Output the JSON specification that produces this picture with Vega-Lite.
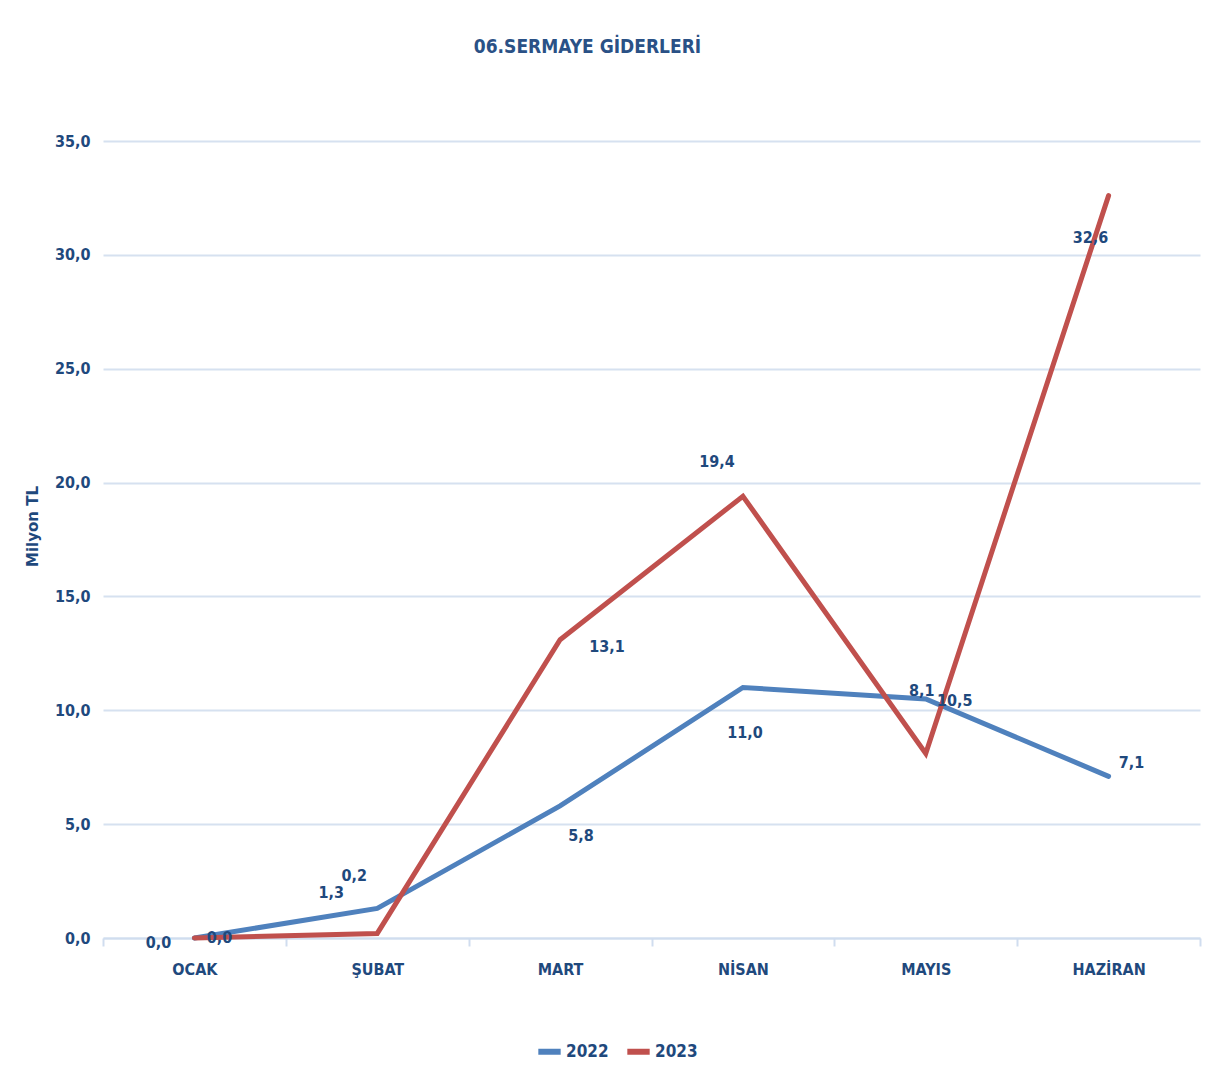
{
  "$schema": "https://vega.github.io/schema/vega-lite/v6.json",
  "autosize": "none",
  "width": 1097,
  "height": 797,
  "padding": {"left": 103, "top": 141, "right": 16, "bottom": 148},
  "background": "white",
  "config": {
    "locale": {"number": {"decimal": ",", "thousands": ".", "grouping": [3], "currency": ["", " TL"]}},
    "view": {"stroke": null},
    "font": "Liberation Sans Narrow, DejaVu Sans Condensed, sans-serif"
  },
  "title": {
    "text": "06.SERMAYE GİDERLERİ",
    "font": "Liberation Sans Narrow, DejaVu Sans Condensed, sans-serif",
    "fontSize": 19,
    "fontWeight": "bold",
    "color": "#2A5186",
    "anchor": "middle",
    "dx": -64,
    "offset": 76
  },
  "data": {
    "values": [
      {"month": "OCAK", "year": "2022", "value": 0.0},
      {"month": "ŞUBAT", "year": "2022", "value": 1.3},
      {"month": "MART", "year": "2022", "value": 5.8},
      {"month": "NİSAN", "year": "2022", "value": 11.0},
      {"month": "MAYIS", "year": "2022", "value": 10.5},
      {"month": "HAZİRAN", "year": "2022", "value": 7.1},
      {"month": "OCAK", "year": "2023", "value": 0.0},
      {"month": "ŞUBAT", "year": "2023", "value": 0.2},
      {"month": "MART", "year": "2023", "value": 13.1},
      {"month": "NİSAN", "year": "2023", "value": 19.4},
      {"month": "MAYIS", "year": "2023", "value": 8.1},
      {"month": "HAZİRAN", "year": "2023", "value": 32.6}
    ]
  },
  "encoding": {
    "x": {
      "field": "month",
      "type": "ordinal",
      "sort": ["OCAK", "ŞUBAT", "MART", "NİSAN", "MAYIS", "HAZİRAN"],
      "scale": {"type": "band", "paddingInner": 0, "paddingOuter": 0},
      "axis": {
        "title": null,
        "labelAngle": 0,
        "tickBand": "extent",
        "domainColor": "#D0DDEF",
        "domainWidth": 2,
        "tickColor": "#D0DDEF",
        "tickWidth": 2,
        "tickSize": 8,
        "grid": false,
        "labelFont": "Liberation Sans Narrow, DejaVu Sans Condensed, sans-serif",
        "labelFontSize": 16,
        "labelFontWeight": "bold",
        "labelColor": "#1F497D",
        "labelPadding": 15
      }
    },
    "y": {
      "field": "value",
      "type": "quantitative",
      "scale": {"domain": [0, 35]},
      "axis": {
        "title": "Milyon TL",
        "titleFont": "DejaVu Sans",
        "titleFontSize": 15,
        "titleFontWeight": "bold",
        "titleColor": "#1F497D",
        "titlePadding": 14,
        "titleY": 385,
        "values": [0, 5, 10, 15, 20, 25, 30, 35],
        "format": ".1f",
        "domain": false,
        "ticks": false,
        "gridColor": "#D6E1F0",
        "gridWidth": 2,
        "labelFont": "Liberation Sans Narrow, DejaVu Sans Condensed, sans-serif",
        "labelFontSize": 16,
        "labelFontWeight": "bold",
        "labelColor": "#1F497D",
        "labelPadding": 13
      }
    }
  },
  "layer": [
    {
      "mark": {"type": "line", "strokeWidth": 5, "strokeCap": "round"},
      "encoding": {
        "color": {
          "field": "year",
          "type": "nominal",
          "scale": {"domain": ["2022", "2023"], "range": ["#4F81BD", "#C0504D"]},
          "legend": {
            "title": null,
            "orient": "none",
            "legendX": 432,
            "legendY": 896,
            "direction": "horizontal",
            "symbolType": "stroke",
            "symbolStrokeWidth": 6,
            "symbolSize": 500,
            "columnPadding": 6,
            "labelFont": "Liberation Sans Narrow, DejaVu Sans Condensed, sans-serif",
            "labelFontSize": 17,
            "labelFontWeight": "bold",
            "labelColor": "#1F497D",
            "labelOffset": 2
          }
        }
      }
    },
    {"transform": [{"filter": "datum.year == '2022' && datum.month == 'OCAK'"}], "mark": {"type": "text", "dx": -36, "dy": 5, "fontSize": 16, "fontWeight": "bold", "color": "#1F497D"}, "encoding": {"text": {"field": "value", "type": "quantitative", "format": ".1f"}}},
    {"transform": [{"filter": "datum.year == '2022' && datum.month == 'ŞUBAT'"}], "mark": {"type": "text", "dx": -46, "dy": -15, "fontSize": 16, "fontWeight": "bold", "color": "#1F497D"}, "encoding": {"text": {"field": "value", "type": "quantitative", "format": ".1f"}}},
    {"transform": [{"filter": "datum.year == '2022' && datum.month == 'MART'"}], "mark": {"type": "text", "dx": 21, "dy": 30, "fontSize": 16, "fontWeight": "bold", "color": "#1F497D"}, "encoding": {"text": {"field": "value", "type": "quantitative", "format": ".1f"}}},
    {"transform": [{"filter": "datum.year == '2022' && datum.month == 'NİSAN'"}], "mark": {"type": "text", "dx": 2, "dy": 45, "fontSize": 16, "fontWeight": "bold", "color": "#1F497D"}, "encoding": {"text": {"field": "value", "type": "quantitative", "format": ".1f"}}},
    {"transform": [{"filter": "datum.year == '2022' && datum.month == 'MAYIS'"}], "mark": {"type": "text", "dx": 29, "dy": 2, "fontSize": 16, "fontWeight": "bold", "color": "#1F497D"}, "encoding": {"text": {"field": "value", "type": "quantitative", "format": ".1f"}}},
    {"transform": [{"filter": "datum.year == '2022' && datum.month == 'HAZİRAN'"}], "mark": {"type": "text", "dx": 23, "dy": -13, "fontSize": 16, "fontWeight": "bold", "color": "#1F497D"}, "encoding": {"text": {"field": "value", "type": "quantitative", "format": ".1f"}}},
    {"transform": [{"filter": "datum.year == '2023' && datum.month == 'OCAK'"}], "mark": {"type": "text", "dx": 25, "dy": 0, "fontSize": 16, "fontWeight": "bold", "color": "#1F497D"}, "encoding": {"text": {"field": "value", "type": "quantitative", "format": ".1f"}}},
    {"transform": [{"filter": "datum.year == '2023' && datum.month == 'ŞUBAT'"}], "mark": {"type": "text", "dx": -23, "dy": -57, "fontSize": 16, "fontWeight": "bold", "color": "#1F497D"}, "encoding": {"text": {"field": "value", "type": "quantitative", "format": ".1f"}}},
    {"transform": [{"filter": "datum.year == '2023' && datum.month == 'MART'"}], "mark": {"type": "text", "dx": 47, "dy": 7, "fontSize": 16, "fontWeight": "bold", "color": "#1F497D"}, "encoding": {"text": {"field": "value", "type": "quantitative", "format": ".1f"}}},
    {"transform": [{"filter": "datum.year == '2023' && datum.month == 'NİSAN'"}], "mark": {"type": "text", "dx": -26, "dy": -34, "fontSize": 16, "fontWeight": "bold", "color": "#1F497D"}, "encoding": {"text": {"field": "value", "type": "quantitative", "format": ".1f"}}},
    {"transform": [{"filter": "datum.year == '2023' && datum.month == 'MAYIS'"}], "mark": {"type": "text", "dx": -4, "dy": -63, "fontSize": 16, "fontWeight": "bold", "color": "#1F497D"}, "encoding": {"text": {"field": "value", "type": "quantitative", "format": ".1f"}}},
    {"transform": [{"filter": "datum.year == '2023' && datum.month == 'HAZİRAN'"}], "mark": {"type": "text", "dx": -18, "dy": 42, "fontSize": 16, "fontWeight": "bold", "color": "#1F497D"}, "encoding": {"text": {"field": "value", "type": "quantitative", "format": ".1f"}}}
  ]
}
